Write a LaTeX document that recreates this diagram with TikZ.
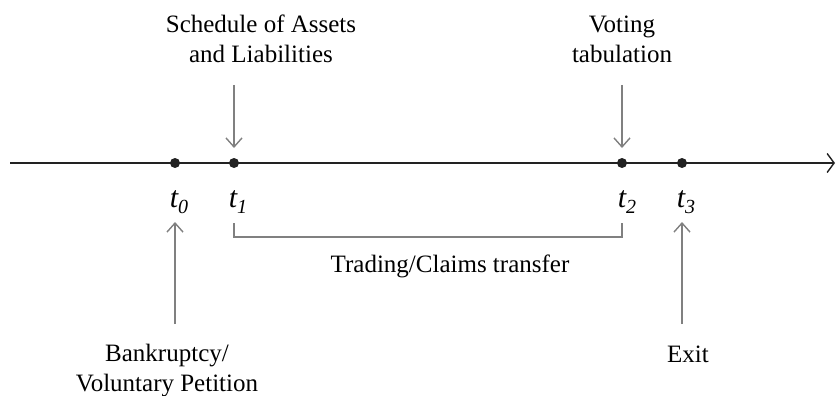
\documentclass[tikz,border=0pt]{standalone}
\usepackage{fontspec}
\setmainfont{Liberation Serif}
\usetikzlibrary{arrows.meta}
\definecolor{linegray}{HTML}{808080}
\definecolor{axisblack}{HTML}{222222}
\tikzset{
  timeline/.style={draw=axisblack, line width=1.8pt, -{Straight Barb[length=7pt,width=19pt,line width=1.4pt]}},
  grayarrow/.style={draw=linegray, line width=1.6pt, -{Straight Barb[length=9pt,width=16pt,line width=1.4pt]}},
  bracketline/.style={draw=linegray, line width=1.6pt},
  evdot/.style={circle, fill=axisblack, inner sep=0pt, minimum size=10pt},
  lbl/.style={font=\fontsize{25}{30}\selectfont, inner sep=0pt, align=center, anchor=base},
  tlbl/.style={font=\fontsize{30}{30}\selectfont\itshape, inner sep=0pt, anchor=base}
}
\newcommand{\tsub}[1]{t\raisebox{-6pt}{\fontsize{20}{20}\selectfont\itshape #1}}
\begin{document}
\begin{tikzpicture}[x=1pt,y=-1pt]
\useasboundingbox (0,0) rectangle (836,396);
% timeline
\coordinate (tl0) at (10,163);
\coordinate (tl1) at (835,163);
\draw[timeline] (tl0) -- (tl1);
% dots
\node[evdot] (d0) at (175,163) {};
\node[evdot] (d1) at (234,163) {};
\node[evdot] (d2) at (622,163) {};
\node[evdot] (d3) at (682,163) {};
% t labels
\node[tlbl] (l0) at (179,207) {\tsub{0}};
\node[tlbl] (l1) at (238,207) {\tsub{1}};
\node[tlbl] (l2) at (627,207) {\tsub{2}};
\node[tlbl] (l3) at (686,207) {\tsub{3}};
% top labels (base anchor = last line)
\node[lbl] (sched) at (261,63) {Schedule of Assets\\and Liabilities};
\node[lbl] (vote) at (622,63) {Voting\\tabulation};
% bottom labels
\node[lbl] (bank) at (167,391) {Bankruptcy/\\Voluntary Petition};
\node[lbl] (exit) at (688,362) {Exit};
\node[lbl] (trade) at (450,272) {Trading/Claims transfer};
% arrow endpoints
\coordinate (a1s) at (234,85);
\coordinate (a1e) at (234,148);
\coordinate (a2s) at (622,85);
\coordinate (a2e) at (622,148);
\coordinate (a0s) at (175,324);
\coordinate (a0e) at (175,222);
\coordinate (a3s) at (682,324);
\coordinate (a3e) at (682,222);
\draw[grayarrow] (a1s) -- (a1e);
\draw[grayarrow] (a2s) -- (a2e);
\draw[grayarrow] (a0s) -- (a0e);
\draw[grayarrow] (a3s) -- (a3e);
% bracket
\coordinate (b1) at (234,223);
\coordinate (b2) at (622,223);
\draw[bracketline] (b1) -- ++(0,14) -| (b2);
\end{tikzpicture}
\end{document}
